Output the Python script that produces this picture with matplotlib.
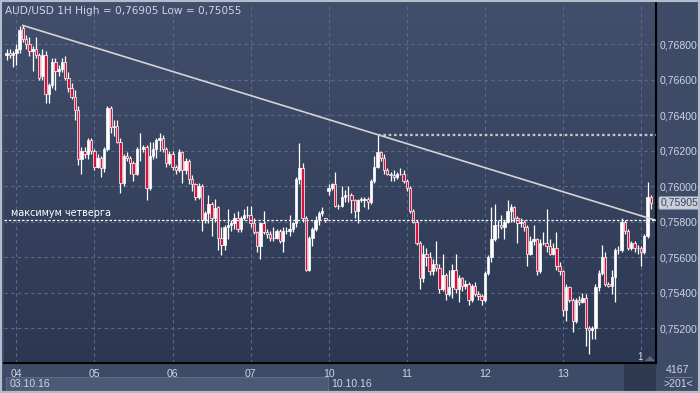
import matplotlib
matplotlib.use('Agg')
import matplotlib.pyplot as plt
from matplotlib.patches import Rectangle, Polygon
from matplotlib.colors import LinearSegmentedColormap
import numpy as np

plt.rcParams['font.family'] = ['Liberation Sans', 'DejaVu Sans']

# AUD/USD 1H, hourly candles 03.10.16 21:00 -> 14.10.16
opens = [.7674, .7675, .7674, .7675, .7677, .7689, .7683, .7680, .7676, .7677,
         .7674, .7662, .7674, .7652, .7657, .7670, .7665, .7666, .7670, .7661,
         .7655, .7650, .7643, .7615, .7620, .7618, .7626, .7620, .7611, .7616,
         .7610, .7621, .7644, .7633, .7634, .7625, .7602, .7617, .7616, .7613,
         .7607, .7621, .7621, .7622, .7599, .7617, .7621, .7626, .7627, .7621,
         .7613, .7618, .7611, .7609, .7619, .7609, .7614, .7604, .7601, .7594,
         .7600, .7581, .7585, .7590, .7582, .7588, .7571, .7567, .7577, .7578,
         .7579, .7582, .7576, .7582, .7584, .7584, .7579, .7574, .7566, .7579,
         .7574, .7573, .7571, .7571, .7575, .7569, .7575, .7575, .7576, .7579,
         .7604, .7610, .7582, .7553, .7571, .7576, .7581, .7585, .7582, .7597,
         .7599, .7601, .7589, .7589, .7594, .7595, .7595, .7592, .7586, .7592,
         .7592, .7593, .7591, .7603, .7611, .7619, .7616, .7609, .7607, .7606,
         .7605, .7607, .7607, .7603, .7599, .7586, .7580, .7568, .7548, .7562,
         .7560, .7552, .7556, .7554, .7542, .7550, .7539, .7543, .7553, .7542,
         .7548, .7544, .7545, .7536, .7544, .7539, .7538, .7536, .7551, .7560,
         .7570, .7578, .7578, .7577, .7580, .7586, .7588, .7582, .7579, .7580,
         .7577, .7562, .7569, .7570, .7552, .7568, .7568, .7566, .7562, .7565,
         .7555, .7552, .7530, .7543, .7536, .7524, .7536, .7535, .7537, .7520,
         .7519, .7520, .7543, .7551, .7560, .7545, .7544, .7549, .7564, .7564,
         .7580, .7575, .7565, .7568, .7565, .7565, .7563, .7572, .7594]
highs = [.7677, .7677, .7676, .7680, .7690, .76905, .7685, .7684, .7679, .7684,
         .7675, .7677, .7676, .7658, .7672, .7672, .7668, .7672, .7673, .7664,
         .7658, .7654, .7645, .7622, .7622, .7627, .7627, .7621, .7618, .7617,
         .7622, .7645, .7645, .7637, .7637, .7627, .7618, .7619, .7617, .7614,
         .7622, .7630, .7623, .7623, .7625, .7625, .7627, .7630, .7629, .7622,
         .7620, .7620, .7612, .7621, .7620, .7616, .7615, .7606, .7602, .7602,
         .7601, .7586, .7595, .7591, .7593, .7589, .7577, .7578, .7587, .7581,
         .7585, .7586, .7583, .7587, .7589, .7589, .7582, .7575, .7580, .7586,
         .7576, .7575, .7577, .7576, .7576, .7577, .7577, .7584, .7580, .7605,
         .76241, .7613, .7583, .7572, .7577, .7583, .7586, .7588, .7582, .7601,
         .7602, .7608, .7590, .7600, .7598, .7600, .7596, .7593, .7593, .7594,
         .7594, .7594, .7604, .7617, .7629, .7620, .7618, .7610, .7608, .7609,
         .7608, .7610, .7609, .7604, .7600, .7587, .7581, .7569, .7567, .7565,
         .7563, .7559, .7569, .7556, .7562, .7551, .7553, .7556, .7562, .7550,
         .7549, .7547, .7546, .7545, .7546, .7541, .7539, .7552, .7561, .7588,
         .7590, .7581, .7584, .7581, .7592, .7590, .7589, .7583, .7582, .7581,
         .7578, .7572, .7578, .7571, .7570, .7574, .7587, .7570, .7568, .7574,
         .7557, .7553, .7545, .7544, .7537, .7537, .7538, .7540, .7539, .7521,
         .7521, .7545, .7553, .7567, .7563, .7546, .7553, .7565, .7566, .7582,
         .7581, .7576, .7569, .7569, .7567, .7566, .7573, .76025, .7595]
lows = [.7671, .7672, .7667, .7668, .7675, .7681, .7677, .7673, .7665, .7672,
        .7660, .7660, .7647, .7647, .7655, .7654, .7662, .7664, .7660, .7653,
        .7649, .7637, .7612, .7607, .7616, .7615, .7618, .7609, .7610, .7605,
        .7608, .7620, .7630, .7628, .7624, .7596, .7600, .7614, .7607, .7603,
        .7606, .7614, .7619, .7592, .7598, .7615, .7616, .7620, .7619, .7611,
        .7612, .7609, .7607, .7608, .7602, .7607, .7601, .7597, .7592, .7593,
        .7575, .7579, .7579, .7572, .7580, .7564, .7561, .7564, .7570, .7575,
        .7576, .7574, .7574, .7581, .7582, .7577, .7573, .7563, .7559, .7573,
        .7571, .7569, .7569, .7570, .7568, .7563, .7573, .7572, .7574, .7577,
        .7601, .7580, .7552, .7552, .7566, .7575, .7578, .7583, .7580, .7595,
        .7598, .7588, .7587, .7588, .7591, .7591, .7585, .7582, .7579, .7591,
        .7588, .7587, .7590, .7602, .7610, .7614, .7607, .7606, .7603, .7603,
        .7604, .7606, .7602, .7597, .7585, .7579, .7567, .7542, .7546, .7555,
        .7550, .7550, .7552, .7540, .7541, .7536, .7538, .7537, .7540, .7535,
        .7541, .7542, .7533, .7535, .7538, .7536, .7533, .7535, .7550, .7557,
        .7569, .7571, .7576, .7570, .7579, .7580, .7580, .7568, .7577, .7575,
        .7555, .7561, .7567, .7550, .7551, .7567, .7563, .7561, .7561, .7553,
        .7550, .7527, .7524, .7535, .7518, .7523, .7533, .7534, .7510, .75055,
        .7514, .7514, .7541, .7550, .7544, .7543, .7539, .7535, .7562, .7563,
        .7573, .7564, .7564, .7563, .7562, .7555, .7562, .7571, .7587]
closes = [.7675, .7674, .7675, .7677, .7688, .7683, .7680, .7676, .7677, .7674,
          .7661, .7674, .7652, .7657, .7670, .7665, .7666, .7670, .7661, .7655,
          .7650, .7643, .7615, .7620, .7618, .7626, .7620, .7611, .7616, .7610,
          .7621, .7644, .7633, .7634, .7625, .7602, .7617, .7616, .7613, .7607,
          .7621, .7621, .7622, .7599, .7617, .7621, .7626, .7627, .7621, .7613,
          .7618, .7611, .7609, .7619, .7609, .7614, .7604, .7601, .7594, .7600,
          .7581, .7585, .7590, .7582, .75875, .7571, .7567, .7577, .7578, .7579,
          .7582, .7576, .7582, .7584, .7584, .7579, .7574, .7566, .7579, .7574,
          .7573, .7571, .7571, .7575, .7569, .7575, .7575, .7576, .7579, .7604,
          .7610, .7582, .7553, .7571, .7576, .7581, .7585, .7586, .7581, .7599,
          .7601, .7589, .7589, .7594, .7595, .7595, .7592, .7586, .7592, .7593,
          .7593, .7591, .7603, .7611, .7619, .7616, .7609, .7607, .7606, .7605,
          .7607, .7607, .7603, .7599, .7586, .7580, .7568, .7548, .7562, .7560,
          .7552, .7556, .7554, .7542, .7550, .7539, .7543, .7553, .7542, .7548,
          .7544, .7545, .7536, .7544, .7539, .7538, .7536, .7551, .7560, .7570,
          .7578, .7578, .7577, .7580, .7586, .7588, .7582, .7579, .7580, .7577,
          .7562, .7569, .7570, .7552, .7568, .7568, .7566, .7562, .7565, .7555,
          .7552, .7530, .7543, .7536, .7524, .7536, .7535, .7537, .7520, .7519,
          .7520, .7543, .7551, .7560, .7545, .7544, .7549, .7564, .7564, .7580,
          .7575, .7565, .7568, .7565, .7565, .7563, .7572, .7594, .75905]

day_labels = ['04', '05', '06', '07', '10', '11', '12', '13', '14']
day_start = [3, 27, 51, 75, 99, 123, 147, 171, 195]
price_ticks = [0.752, 0.754, 0.756, 0.758, 0.760, 0.762, 0.764, 0.766, 0.768]
thursday_high = 0.7581
trend_idx = [5, 114]

W, H = 700, 393
BG_TOP, BG_BOT = '#424f6c', '#2c3852'
PANEL = '#3e4b67'
TXT = '#cdd5e4'
RED = '#dc103c'
FS = 7.6


def fx(x):
    return x / W


def fy(y):
    return 1 - y / H


def fmt(p):
    return f'{p:.5f}'.replace('.', ',')


fig = plt.figure(figsize=(W / 100, H / 100), dpi=100)
fig.patch.set_facecolor(PANEL)

ax = fig.add_axes([fx(4), fy(363), fx(656) - fx(4), fy(3) - fy(363)])
n = len(closes)
xs = np.arange(n)
x0, x1 = -0.8, 199.6
y0, y1 = 0.75004, 0.77031

# background gradient
grad = np.linspace(0, 1, 256).reshape(-1, 1)
cmap = LinearSegmentedColormap.from_list('bg', [BG_TOP, BG_BOT])
ax.imshow(grad, extent=[x0, x1, y0, y1], origin='upper', aspect='auto',
          cmap=cmap, zorder=0)

# grid
for d in day_start:
    ax.axvline(d, color='#5b6a88', lw=0.8, ls=(0, (3, 3)), zorder=1)
for p in price_ticks:
    ax.axhline(p, color='#5b6a88', lw=0.8, ls=(0, (3, 3)), zorder=1)

# candles
o = np.array(opens)
c = np.array(closes)
h = np.array(highs)
l = np.array(lows)
up = c >= o
ax.vlines(xs, l, h, color='white', lw=0.9, zorder=3)
body_lo = np.minimum(o, c)
body_h = np.abs(c - o)
ax.bar(xs[up], body_h[up], bottom=body_lo[up], width=0.74, color='white',
       edgecolor='white', lw=0.5, zorder=4)
ax.bar(xs[~up], body_h[~up], bottom=body_lo[~up], width=0.74, color=RED,
       edgecolor='white', lw=0.5, zorder=4)

# trend line through the two highs
ta, tb = trend_idx
slope = (highs[tb] - highs[ta]) / (tb - ta)
ax.plot([ta, x1], [highs[ta], highs[ta] + slope * (x1 - ta)],
        color='#d4d4d4', lw=1.2, zorder=5)
# level of the second high
ax.plot([tb, x1], [highs[tb], highs[tb]], color='#c8c8c8', lw=1.6,
        ls=(0, (1.2, 1.2)), zorder=5)
# thursday high
ax.axhline(thursday_high, color='white', lw=0.9, ls=(0, (2, 1.5)), zorder=5)
ax.text(1.5, thursday_high + 0.00012, 'максимум четверга', color='white',
        fontsize=6.9, family='DejaVu Sans', va='bottom', ha='left', zorder=6)

ax.set_xlim(x0, x1)
ax.set_ylim(y0, y1)
ax.set_xticks([])
ax.yaxis.tick_right()
ax.set_yticks(price_ticks)
ax.set_yticklabels([fmt(p) for p in price_ticks])
ax.tick_params(axis='y', length=0, pad=2.5, labelsize=FS, labelcolor=TXT)
for s in ['top', 'left']:
    ax.spines[s].set_visible(False)
ax.spines['bottom'].set_color('black')
ax.spines['right'].set_color('black')
ax.spines['bottom'].set_linewidth(1.5)
ax.spines['right'].set_linewidth(1.5)

# title
ax.text(0.002, 0.993, f'AUD/USD 1H High = {fmt(max(highs))} Low = {fmt(min(lows))}',
        transform=ax.transAxes, color=TXT, fontsize=7.6, family='DejaVu Sans',
        va='top', ha='left', zorder=6)

# day labels
xt = ax.get_xaxis_transform()
for d, lab in zip(day_start, day_labels):
    col = '#8090a8' if lab == '14' else TXT
    ax.text(d, -0.016, lab, transform=xt, color=col, fontsize=FS,
            va='top', ha='center', clip_on=False)

# bottom panels
fig.patches.append(Rectangle((fx(624), fy(392)), fx(656) - fx(624), fy(364) - fy(392),
                             transform=fig.transFigure, facecolor='#2f3a52',
                             edgecolor='none', zorder=0))
fig.patches.append(Rectangle((fx(6), fy(391)), fx(328) - fx(6), fy(377) - fy(391),
                             transform=fig.transFigure, facecolor='#4c5a75',
                             edgecolor='#65728b', lw=0.6, zorder=0))
fig.text(fx(10), fy(384), '03.10.16', color=TXT, fontsize=FS, va='center', ha='left')
fig.text(fx(331), fy(384), '10.10.16', color=TXT, fontsize=FS, va='center', ha='left')
fig.text(fx(678), fy(370), '4167', color=TXT, fontsize=FS, va='center', ha='center')
fig.lines.append(plt.Line2D([fx(665), fx(692)], [fy(377), fy(377)],
                            transform=fig.transFigure, color='#7080a0', lw=0.6))
fig.text(fx(678), fy(384), '>201<', color=TXT, fontsize=FS, va='center', ha='center')

# scroll marker
fig.text(fx(640), fy(357), '1', color=TXT, fontsize=7, va='center', ha='center')
fig.patches.append(Polygon([(fx(645), fy(361)), (fx(655), fy(361)), (fx(650), fy(356))],
                           closed=True, transform=fig.transFigure,
                           facecolor='#5a6884', edgecolor='none'))

# last price tag
ax.annotate(fmt(closes[-1]), xy=(1.0, closes[-1]),
            xycoords=ax.get_yaxis_transform(), xytext=(3, 0),
            textcoords='offset points', va='center', ha='left', fontsize=FS,
            color='#3a4560',
            bbox=dict(boxstyle='round,pad=0.12', fc='#c9ced8', ec='#9aa3b5', lw=0.5))

# outer frame
fig.patches.append(Rectangle((0, 0), 1, 1, transform=fig.transFigure, fill=False,
                             edgecolor='#b4bccb', lw=3))

fig.savefig('out.png', dpi=100, facecolor=fig.get_facecolor())
